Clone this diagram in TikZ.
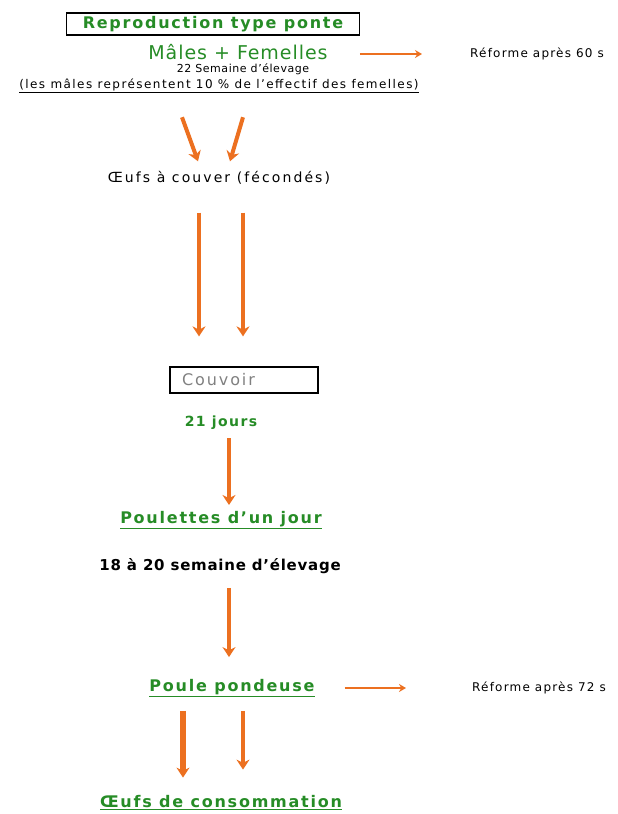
\documentclass[tikz,border=0pt]{standalone}
\usepackage{fontspec}
\setmainfont{DejaVu Sans}
\usetikzlibrary{positioning}
\usetikzlibrary{arrows.meta}
\definecolor{ponte_green}{RGB}{38,140,38}
\definecolor{flux_orange}{RGB}{236,112,32}
\newcommand{\spaced}[2]{\fontsize{#1}{#1}\selectfont\addfontfeature{LetterSpace=#2}}
\tikzset{
        textnode/.style={align=center,inner sep=0pt},
        % Green titles
        node_title/.style={textnode, text=ponte_green, font=\bfseries\spaced{16}{11}},
        % Boxed stages
        node_box/.style={textnode, draw=black, line width=1.2pt, minimum height=22pt},
        % Black comments
        node_note/.style={textnode, black, font=\spaced{11}{5}},
        % Culling notes on the right
        node_reform/.style={textnode, black, anchor=west, font=\spaced{12}{10}},
        % Orange flows
        flux/.style={draw=flux_orange, line width=4pt, -{Stealth[length=10pt,width=13pt]}},
        flux_side/.style={draw=flux_orange, line width=1.8pt, -{Stealth[length=7pt,width=8pt]}}
}
\begin{document}
\begin{tikzpicture}[x=1pt, y=-1pt]
            \useasboundingbox (0,0) rectangle (618,814);
            \node[node_box, node_title, minimum width=293pt] (repro) at (213,24) {Reproduction type ponte};
            \node[textnode, text=ponte_green, font=\spaced{19}{5}] (sexes) at (238,52) {Mâles + Femelles};
            \node[node_note] (duree_repro) at (243,69) {22 Semaine d'élevage};
            \node[node_note, font=\spaced{12}{12}] (ratio) at (219,86) {\underline{(les mâles représentent 10 \% de l'effectif des femelles)}};
            \node[node_reform] (reforme_repro) at (470,54) {Réforme après 60 s};
            \node[node_note, font=\spaced{14}{15}] (oac) at (219,178) {Œufs à couver (fécondés)};
            \node[node_box, text=gray, text width=124pt, align=left, inner xsep=12pt, minimum height=26pt, font=\spaced{16}{12}] (couvoir) at (244,380) {Couvoir};
            \node[node_title, font=\bfseries\spaced{14}{10}] (jours) at (221,423) {21 jours};
            \node[node_title] (poulettes) at (221,520) {\underline{Poulettes d'un jour}};
            \node[node_note, font=\bfseries\spaced{15}{5}] (duree_poulettes) at (220,566) {18 à 20 semaine d'élevage};
            \node[node_title] (pondeuse) at (232,688) {\underline{Poule pondeuse}};
            \node[node_reform] (reforme_pondeuse) at (472,688) {Réforme après 72 s};
            \node[node_title] (conso) at (221,803) {\underline{Œufs de consommation}};

            \draw[flux] ([xshift=-37pt,yshift=-24pt]ratio.south) -- ([xshift=-21pt,yshift=10pt]oac.north);
            \draw[flux] ([xshift=24pt,yshift=-24pt]ratio.south) -- ([xshift=11pt,yshift=10pt]oac.north);
            \draw[flux] ([xshift=-20pt,yshift=-28pt]oac.south) -- ([xshift=-20pt,yshift=30pt]oac.south |- couvoir.north);
            \draw[flux] ([xshift=24pt,yshift=-28pt]oac.south) -- ([xshift=24pt,yshift=30pt]oac.south |- couvoir.north);
            \draw[flux] ([xshift=8pt,yshift=-8pt]jours.south) -- ([xshift=8pt,yshift=6pt]jours.south |- poulettes.north);
            \draw[flux] ([xshift=9pt,yshift=-14pt]duree_poulettes.south) -- ([xshift=-3pt,yshift=22pt]pondeuse.north);
            \draw[flux, line width=6pt] ([xshift=-49pt,yshift=-14pt]pondeuse.south) -- ([xshift=-38pt,yshift=18pt]conso.north);
            \draw[flux] ([xshift=11pt,yshift=-14pt]pondeuse.south) -- ([xshift=22pt,yshift=26pt]conso.north);
            \draw[flux_side] ([xshift=32pt]sexes.east |- reforme_repro.west) -- ([xshift=-48pt]reforme_repro.west);
            \draw[flux_side] ([xshift=30pt]pondeuse.east) -- ([xshift=-66pt]reforme_pondeuse.west);
        \end{tikzpicture}
\end{document}
